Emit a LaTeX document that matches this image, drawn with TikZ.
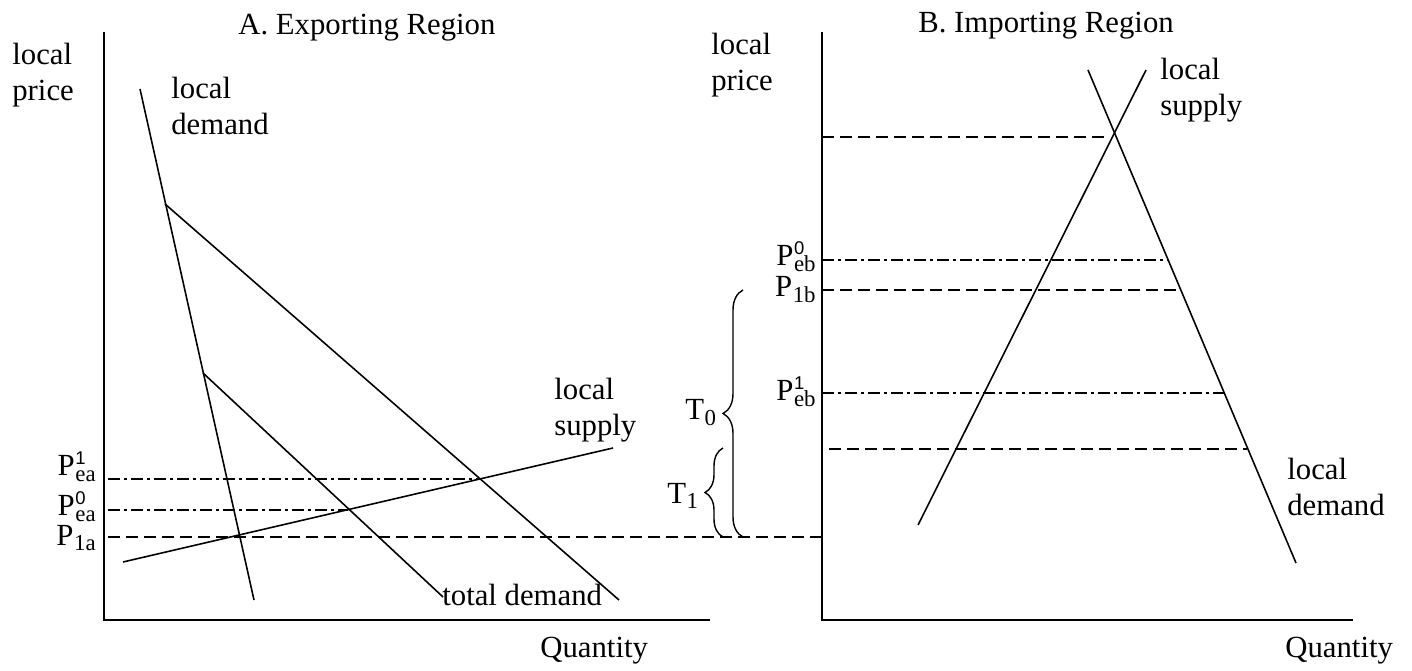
\documentclass[tikz,border=0pt]{standalone}
\usepackage{fontspec}
\setmainfont{Liberation Serif}
\setsansfont{Liberation Sans}
\usetikzlibrary{decorations.pathreplacing}

% price label: letter, sans superscript, serif subscript
\newcommand{\plab}[3]{#1\kern0.3pt\makebox[0pt][l]{\raisebox{0.38em}{\fontsize{10.5}{10.5}\sffamily #2}}\raisebox{-0.19em}{\fontsize{13}{13}\selectfont #3}}

\tikzset{
  curve/.style={line width=0.9pt},
  axis/.style={line width=1.2pt},
  pdash/.style={line width=1.1pt, dash pattern=on 0.24cm off 0.12cm},
  pdashdot/.style={line width=1.1pt, dash pattern=on 0.24cm off 0.08cm on 0.06cm off 0.08cm},
  lbl/.style={font=\fontsize{17.5}{20.5}\selectfont, inner sep=0pt, align=left},
  tbrace/.style={decorate, decoration={brace, amplitude=#1}, line width=0.8pt},
}

\begin{document}
\begin{tikzpicture}[x=0.02cm, y=-0.02cm]
\useasboundingbox (0,0) rectangle (1412,671);

% A. Exporting Region
\begin{scope}
    \draw[axis] (104,32) -- (104,620) -- (710,620);
    \coordinate (ldAtop) at (140,89);
    \coordinate (ldAbot) at (254,600);
    \draw[curve] (ldAtop) -- (ldAbot);
    \draw[curve] (165,204) -- (619,600);
    \draw[curve] (203,373) -- (443,597);
    \draw[curve] (123,562) -- (613,448);
    \draw[pdashdot] (108,479) -- (480,479);
    \draw[pdashdot] (108,510) -- (348,510);
    \draw[pdash] (108,537) -- (822,537);
    \node[lbl, anchor=base west] (titleA) at (238,35) {A. Exporting Region};
    \node[lbl, anchor=north west] (priceA) at (12,43) {local\\price};
    \node[lbl, anchor=north west] (ldA) at (171,77) {local\\demand};
    \node[lbl, anchor=north west] (lsA) at (554,378) {local\\supply};
    \node[lbl, anchor=base west] (tdA) at (442,605) {total demand};
    \node[lbl, anchor=base west] (qtyA) at (540,657) {Quantity};
    \node[lbl, anchor=base east] (pea1) at (96,476) {\plab{P}{1}{ea}};
    \node[lbl, anchor=base east] (pea0) at (96,516) {\plab{P}{0}{ea}};
    \node[lbl, anchor=base east] (p1a) at (96,545) {\plab{P}{}{1a}};
\end{scope}

% tariff braces
\draw[tbrace=0.4cm] (743,537) -- (743,290);
\draw[tbrace=0.36cm] (723,537) -- (723,448);
\node[lbl, anchor=base west] (t0) at (685,420) {\plab{T}{}{0}};
\node[lbl, anchor=base west] (t1) at (667,503) {\plab{T}{}{1}};

% B. Importing Region
\begin{scope}
    \draw[axis] (822,32) -- (822,620) -- (1353,620);
    \coordinate (lsBbot) at (918,525);
    \coordinate (lsBtop) at (1146,70);
    \coordinate (ldBtop) at (1088,70);
    \coordinate (ldBbot) at (1296,563);
    \draw[curve] (lsBbot) -- (lsBtop);
    \draw[curve] (ldBtop) -- (ldBbot);
    \draw[pdash] (822,137) -- (1107,137);
    \draw[pdashdot] (822,260) -- (1167,260);
    \draw[pdash] (822,290) -- (1180,290);
    \draw[pdashdot] (822,393) -- (1224,393);
    \draw[pdash] (829,449) -- (1247,449);
    \node[lbl, anchor=base west] (titleB) at (918,33) {B. Importing Region};
    \node[lbl, anchor=north west] (priceB) at (711,33) {local\\price};
    \node[lbl, anchor=north west] (lsB) at (1160,58) {local\\supply};
    \node[lbl, anchor=north west] (ldB) at (1287,458) {local\\demand};
    \node[lbl, anchor=base west] (qtyB) at (1285,657) {Quantity};
    \node[lbl, anchor=base east] (peb0) at (816,266) {\plab{P}{0}{eb}};
    \node[lbl, anchor=base east] (p1b) at (816,297) {\plab{P}{}{1b}};
    \node[lbl, anchor=base east] (peb1) at (816,401) {\plab{P}{1}{eb}};
\end{scope}
\end{tikzpicture}
\end{document}
